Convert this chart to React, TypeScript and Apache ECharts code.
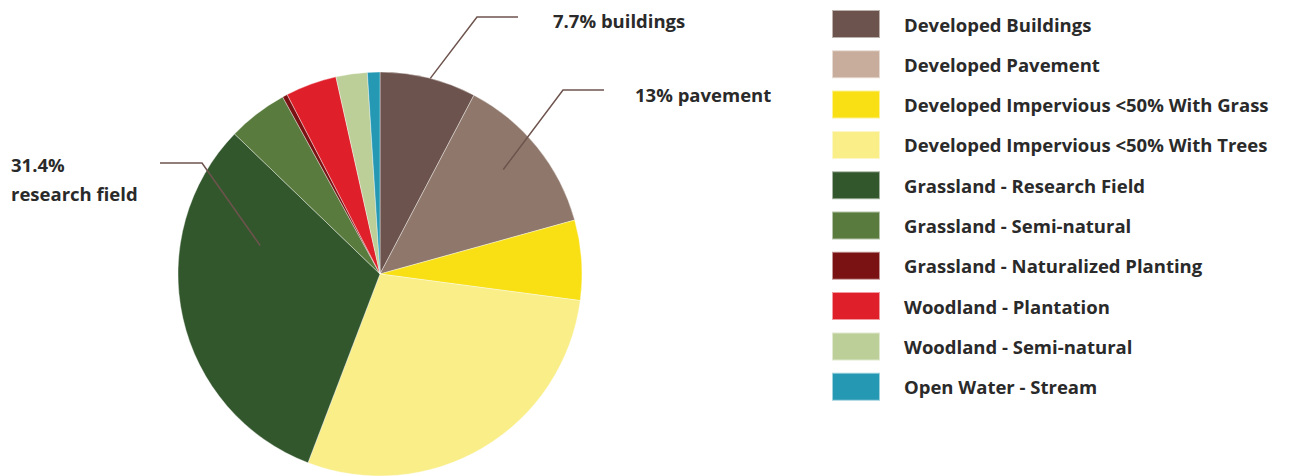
import React, { useEffect, useRef } from "react";
import * as echarts from "echarts";

const categories = [
  "Developed Buildings",
  "Developed Pavement",
  "Developed Impervious <50% With Grass",
  "Developed Impervious <50% With Trees",
  "Grassland - Research Field",
  "Grassland - Semi-natural",
  "Grassland - Naturalized Planting",
  "Woodland - Plantation",
  "Woodland - Semi-natural",
  "Open Water - Stream",
];
const values = [7.7, 13, 6.4, 28.7, 31.4, 4.8, 0.4, 4.1, 2.5, 1.0];
const sliceColors = [
  "#6d534d", "#8f786b", "#f8e014", "#f9ee88", "#33572d",
  "#5a7b3e", "#7a1213", "#df1f2a", "#bccf98", "#2599b4",
];
const legendColors = [
  "#6d534d", "#c9ad9c", "#f8e014", "#f9ee88", "#33572d",
  "#5a7b3e", "#7a1213", "#df1f2a", "#bccf98", "#2599b4",
];
const calloutIndex = [0, 1, 4];
const calloutText = ["7.7% buildings", "13% pavement", "31.4%\nresearch field"];

const FONT = "'Open Sans', Lato, sans-serif";

// layout (pixels)
const CX = 380, CY = 274, R = 202;
// where the leader line starts: [fraction across slice angle, fraction of radius]
const calloutAnchor = [[0.52, 1.0], [0.47, 0.8], [0.73, 0.61]];
const calloutElbow = [[477, 17], [563, 90], [202, 163]];
const calloutEnd = [[518, 17], [604, 90], [160, 163]];
const calloutTextPos = [[553, 20], [635, 94], [11, 179]];

export default function App() {
  const ref = useRef<HTMLDivElement>(null);
  useEffect(() => {
    document.body.style.margin = "0";
    const chart = echarts.init(ref.current!, null, { renderer: "svg" });
    const total = values.reduce((a, b) => a + b, 0);
    const starts: number[] = [];
    let acc = 0;
    values.forEach((v) => { starts.push(acc); acc += v; });

    const graphics: any[] = [];
    calloutIndex.forEach((idx, k) => {
      const a0 = (starts[idx] / total) * 2 * Math.PI;
      const a1 = ((starts[idx] + values[idx]) / total) * 2 * Math.PI;
      const ang = a0 + (a1 - a0) * calloutAnchor[k][0];
      const r = R * calloutAnchor[k][1];
      const sx = CX + r * Math.sin(ang);
      const sy = CY - r * Math.cos(ang);
      graphics.push({
        type: "polyline",
        silent: true,
        z: 10,
        shape: { points: [[sx, sy], calloutElbow[k], calloutEnd[k]] },
        style: { stroke: "#6d534d", lineWidth: 1.5, fill: "none" },
      });
      graphics.push({
        type: "text",
        x: calloutTextPos[k][0],
        y: calloutTextPos[k][1],
        z: 10,
        style: {
          text: calloutText[k],
          fill: "#2a2a2a",
          font: "bold 18.5px " + FONT,
          lineHeight: 29,
          verticalAlign: "middle",
        },
      });
    });

    chart.setOption({
      animation: false,
      backgroundColor: "#ffffff",
      legend: {
        orient: "vertical",
        left: 831,
        top: 9,
        padding: 0,
        itemWidth: 48,
        itemHeight: 28,
        itemGap: 10.3,
        icon: "rect",
        selectedMode: false,
        data: categories.map((c, i) => ({ name: c, itemStyle: { color: legendColors[i] } })),
        textStyle: {
          fontFamily: FONT,
          fontWeight: "bold",
          fontSize: 18.5,
          lineHeight: 26,
          color: "#2a2a2a",
          padding: [0, 0, 0, 19],
        },
      },
      series: [
        {
          type: "pie",
          center: [CX, CY],
          radius: R,
          startAngle: 90,
          clockwise: true,
          silent: true,
          label: { show: false },
          labelLine: { show: false },
          itemStyle: { borderColor: "rgba(255,255,255,0.55)", borderWidth: 0.7 },
          data: categories.map((c, i) => ({
            name: c,
            value: values[i],
            itemStyle: { color: sliceColors[i] },
          })),
        },
      ],
      graphic: graphics,
    });
    return () => chart.dispose();
  }, []);
  return <div ref={ref} style={{ width: 1293, height: 476 }} />;
}
